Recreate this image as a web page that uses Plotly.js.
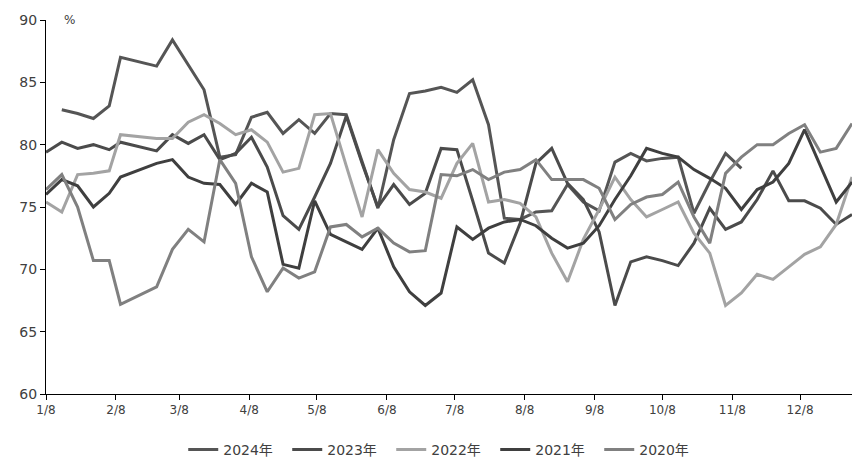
<!DOCTYPE html>
<html><head><meta charset="utf-8">
<script src="https://cdn.plot.ly/plotly-3.0.1.min.js"></script>
<style>html,body{margin:0;padding:0;background:#fff}#chart{width:864px;height:470px}</style>
</head><body><div id="chart"></div>
<script>
// weekly observation dates (plotted on a common calendar year)
const dates = ['2023-01-08','2023-01-15','2023-01-22','2023-01-29','2023-02-05','2023-02-10',
  '2023-02-26','2023-03-05','2023-03-12','2023-03-19','2023-03-26','2023-04-02','2023-04-09',
  '2023-04-16','2023-04-23','2023-04-30','2023-05-07','2023-05-14','2023-05-21','2023-05-28',
  '2023-06-04','2023-06-11','2023-06-18','2023-06-25','2023-07-02','2023-07-09','2023-07-16',
  '2023-07-23','2023-07-30','2023-08-06','2023-08-13','2023-08-20','2023-08-27','2023-09-03',
  '2023-09-10','2023-09-17','2023-09-24','2023-10-01','2023-10-08','2023-10-15','2023-10-22',
  '2023-10-29','2023-11-05','2023-11-12','2023-11-19','2023-11-26','2023-12-03','2023-12-10',
  '2023-12-17','2023-12-24','2023-12-31'];

const y2024 = [null,82.8,82.5,82.1,83.1,87.0,86.3,88.4,86.4,84.4,79.0,79.2,82.2,82.6,80.9,82.0,80.9,82.5,82.4,78.6,74.9,80.4,84.1,84.3,84.6,84.2,85.2,81.6,74.1,74.0,74.6,74.7,76.8,75.4,74.7,78.6,79.3,78.7,78.9,79.0,74.5,77.0,79.3,78.1,null,null,null,null,null,null,null];
const y2023 = [79.4,80.2,79.7,80.0,79.6,80.2,79.5,80.8,80.1,80.8,78.8,79.3,80.6,78.2,74.3,73.2,75.8,78.5,82.3,78.5,75.0,76.8,75.2,76.1,79.7,79.6,75.5,71.3,70.5,73.7,78.5,79.7,76.9,75.6,73.0,67.1,70.6,71.0,70.7,70.3,72.1,74.9,73.2,73.8,75.6,77.9,75.5,75.5,74.9,73.6,74.4];
const y2022 = [75.4,74.6,77.6,77.7,77.9,80.8,80.5,80.5,81.8,82.4,81.7,80.8,81.2,80.2,77.8,78.1,82.4,82.5,78.3,74.2,79.6,77.7,76.4,76.2,75.7,78.5,80.1,75.4,75.6,75.3,74.2,71.3,69.0,72.4,74.8,77.4,75.6,74.2,74.8,75.4,72.9,71.3,67.1,68.1,69.6,69.2,70.2,71.2,71.8,73.6,77.4];
const y2021 = [76.0,77.2,76.7,75.0,76.1,77.4,78.5,78.8,77.4,76.9,76.8,75.2,76.9,76.2,70.4,70.1,75.5,72.8,72.2,71.6,73.3,70.2,68.2,67.1,68.1,73.4,72.4,73.3,73.8,74.0,73.5,72.5,71.7,72.1,73.5,75.6,77.5,79.7,79.3,79.0,78.0,77.3,76.5,74.8,76.4,77.0,78.5,81.2,78.3,75.4,77.0];
const y2020 = [76.4,77.6,75.0,70.7,70.7,67.2,68.6,71.6,73.2,72.2,78.8,76.9,71.0,68.2,70.1,69.3,69.8,73.4,73.6,72.6,73.3,72.1,71.4,71.5,77.6,77.5,78.0,77.2,77.8,78.0,78.8,77.2,77.2,77.2,76.5,74.0,75.2,75.8,76.0,77.0,74.2,72.1,77.7,79.0,80.0,80.0,80.9,81.6,79.4,79.7,81.7];

const seriesNames = ['2024年','2023年','2022年','2021年','2020年'];
const seriesData = [y2024, y2023, y2022, y2021, y2020];
const seriesColors = ['#555555','#4b4b4b','#a3a3a3','#3f3f3f','#808080'];

const tickVals = ['2023-01-08','2023-02-08','2023-03-08','2023-04-08','2023-05-08','2023-06-08',
  '2023-07-08','2023-08-08','2023-09-08','2023-10-08','2023-11-08','2023-12-08'];
const tickText = ['1/8','2/8','3/8','4/8','5/8','6/8','7/8','8/8','9/8','10/8','11/8','12/8'];

const FONT = 'DejaVu Sans, Verdana, Noto Sans CJK SC, sans-serif';

const traces = seriesNames.map((n, i) => ({
  type: 'scatter', mode: 'lines', name: n, x: dates, y: seriesData[i],
  line: {color: seriesColors[i], width: 3}, connectgaps: false
}));

const layout = {
  width: 864, height: 470,
  margin: {l: 46, r: 12, t: 20, b: 76},
  paper_bgcolor: '#fff', plot_bgcolor: '#fff',
  font: {family: FONT, size: 13, color: '#404040'},
  showlegend: true,
  legend: {orientation: 'h', xref: 'container', yref: 'container',
    x: 0.513, xanchor: 'center', y: 0.043, yanchor: 'middle',
    font: {family: FONT, size: 14, color: '#404040'}, entrywidth: 59, entrywidthmode: 'pixels',
    itemwidth: 30, tracegroupgap: 0, borderwidth: 0},
  xaxis: {
    type: 'date', range: ['2023-01-08', '2023-12-31'], automargin: false,
    tickmode: 'array', tickvals: tickVals, ticktext: tickText,
    showgrid: false, zeroline: false, showline: true, linecolor: '#000', linewidth: 1,
    ticks: 'outside', ticklen: 5, tickcolor: '#000',
    tickfont: {family: FONT, size: 12, color: '#404040'}
  },
  yaxis: {
    range: [60, 90], dtick: 5, tick0: 60, automargin: false,
    showgrid: false, zeroline: false, showline: true, linecolor: '#000', linewidth: 1,
    ticks: 'outside', ticklen: 5, tickcolor: '#000',
    tickfont: {family: FONT, size: 14, color: '#404040'}
  },
  annotations: [{text: '%', xref: 'paper', yref: 'paper', x: 0.02, y: 1.0, xanchor: 'left',
    yanchor: 'middle', showarrow: false, font: {family: FONT, size: 12, color: '#404040'}}]
};

Plotly.newPlot('chart', traces, layout, {displayModeBar: false, staticPlot: true});
</script></body></html>
